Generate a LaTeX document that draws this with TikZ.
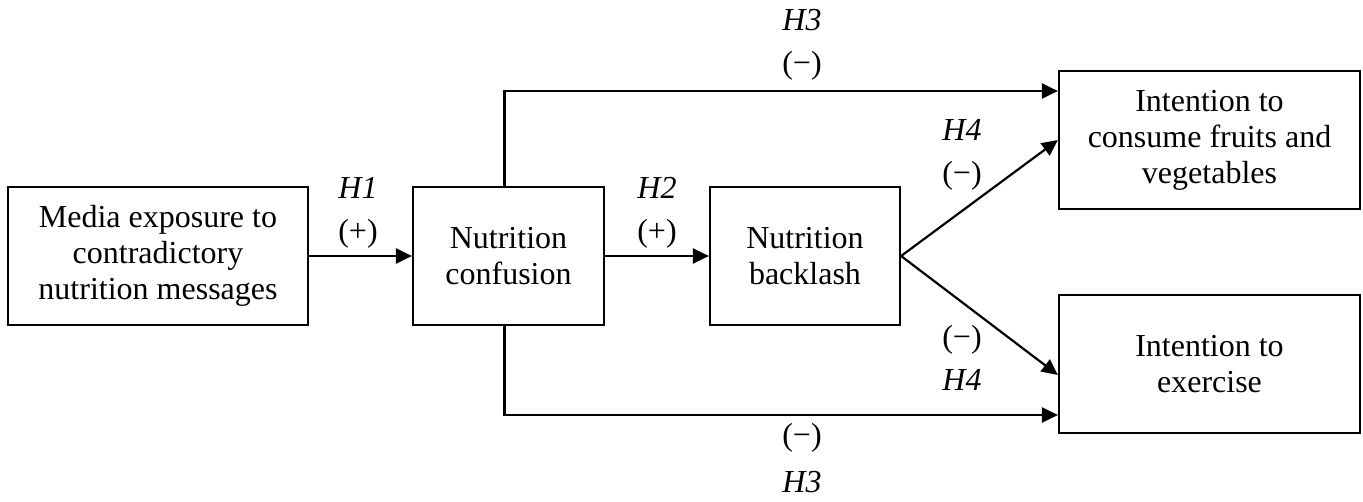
\documentclass[tikz,border=0pt]{standalone}
\usepackage{fontspec}
\setmainfont{Liberation Serif}
\usetikzlibrary{arrows.meta}
\begin{document}
\begin{tikzpicture}[x=1pt,y=-1pt,
  box/.style={draw,line width=2.2pt,rectangle,align=center,minimum height=138pt,inner sep=2pt,font=\fontsize{32}{36}\selectfont},
  arr/.style={line width=2.2pt,-{Triangle[length=16pt,width=15pt]}},
  lbl/.style={font=\fontsize{32}{36}\selectfont,inner sep=0pt}]
\useasboundingbox (0,0) rectangle (1363,502);
\node[box,minimum width=300pt] (b1) at (158,256) {Media exposure to\\contradictory\\nutrition messages};
\node[box,minimum width=191pt] (b2) at (508.5,256) {Nutrition\\confusion};
\node[box,minimum width=190pt] (b3) at (805,256) {Nutrition\\backlash};
\node[box,minimum width=301pt] (b4) at (1209.5,140) {Intention to\\consume fruits and\\vegetables};
\node[box,minimum width=301pt] (b5) at (1209.5,364) {Intention to\\exercise};
\coordinate (t4) at ([yshift=49pt]b4.west);
\coordinate (t5) at ([yshift=-51pt]b5.west);
\coordinate (d5) at ([yshift=-11pt]b5.west);
\draw[arr] (b1) -- (b2);
\draw[arr] (b2) -- (b3);
\draw[arr] ([xshift=-4pt]b2.north) |- (t4);
\draw[arr] ([xshift=-4pt]b2.south) |- (t5);
\draw[arr] (b3.east) -- (b4.west);
\draw[arr] (b3.east) -- (d5);
\node[lbl] (h1) at (358,188) {\itshape H1};
\node[lbl] (p1) at (358,234) {(+)};
\node[lbl] (h2) at (657,188) {\itshape H2};
\node[lbl] (p2) at (657,234) {(+)};
\node[lbl] (h3a) at (802,20) {\itshape H3};
\node[lbl] (m3a) at (802,66) {(−)};
\node[lbl] (m3b) at (802,438) {(−)};
\node[lbl] (h3b) at (802,482) {\itshape H3};
\node[lbl] (h4a) at (962,130) {\itshape H4};
\node[lbl] (m4a) at (962,176) {(−)};
\node[lbl] (m4b) at (962,340) {(−)};
\node[lbl] (h4b) at (962,380) {\itshape H4};
\end{tikzpicture}
\end{document}
